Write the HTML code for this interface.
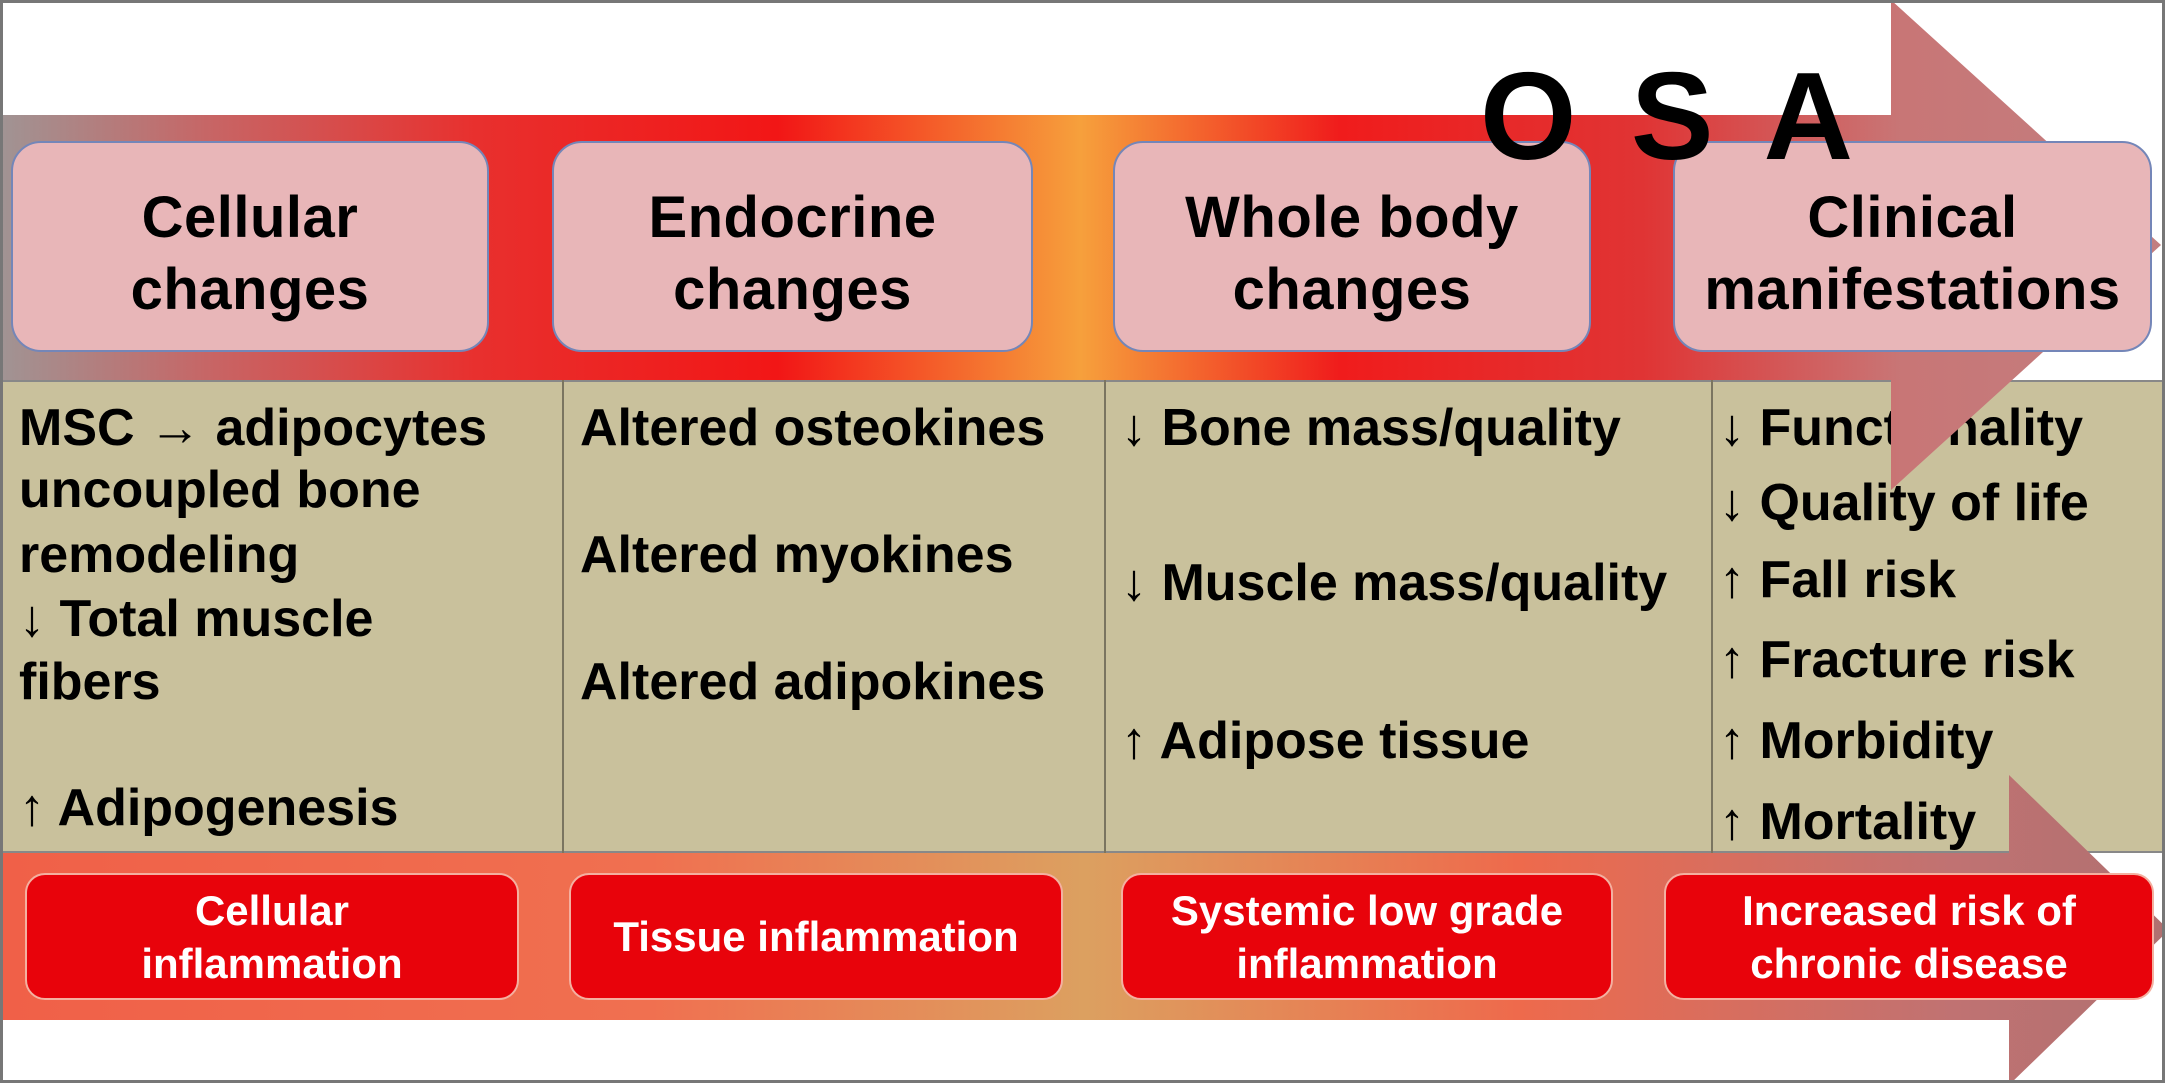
<!DOCTYPE html>
<html><head><meta charset="utf-8"><style>
html,body{margin:0;padding:0;width:2165px;height:1083px;overflow:hidden;}
body{position:relative;background:#fff;font-family:"Liberation Sans",sans-serif;}
.abs{position:absolute;}
.hb{position:absolute;top:141px;height:211px;padding-top:14px;background:#e8b6b8;border:2px solid #7486b8;border-radius:30px;box-sizing:border-box;display:flex;align-items:center;justify-content:center;text-align:center;font-weight:bold;font-size:58px;line-height:72px;color:#000;letter-spacing:0.5px;}
.bb{position:absolute;top:873px;height:127px;background:#e8030b;border:2px solid #f4b0a0;border-radius:20px;box-sizing:border-box;display:flex;align-items:center;justify-content:center;text-align:center;font-weight:bold;font-size:42px;line-height:53px;color:#fff;}
.t{position:absolute;font-weight:bold;font-size:52px;line-height:60px;color:#000;white-space:nowrap;transform:translateY(-30px);}
.sep{position:absolute;top:380px;height:473px;width:2px;background:#7a7560;}
</style></head><body>
<div class="abs" style="left:0;top:0;width:2165px;height:1083px;box-sizing:border-box;border:3px solid #777;z-index:50;pointer-events:none"></div>
<div class="abs" style="left:0;top:380px;width:2165px;height:473px;background:#c9c19c;border-top:2px solid #888;border-bottom:2px solid #888;box-sizing:border-box"></div>
<div class="sep" style="left:562px"></div>
<div class="sep" style="left:1104px"></div>
<div class="sep" style="left:1711px"></div>

<div class="t" style="left:19px;top:428px">MSC → adipocytes</div>
<div class="t" style="left:19px;top:490px">uncoupled bone</div>
<div class="t" style="left:19px;top:555px">remodeling</div>
<div class="t" style="left:19px;top:619px">↓ Total muscle</div>
<div class="t" style="left:19px;top:682px">fibers</div>
<div class="t" style="left:19px;top:808px">↑ Adipogenesis</div>

<div class="t" style="left:580px;top:428px">Altered osteokines</div>
<div class="t" style="left:580px;top:555px">Altered myokines</div>
<div class="t" style="left:580px;top:682px">Altered adipokines</div>

<div class="t" style="left:1121px;top:428px">↓ Bone mass/quality</div>
<div class="t" style="left:1121px;top:583px">↓ Muscle mass/quality</div>
<div class="t" style="left:1121px;top:741px">↑ Adipose tissue</div>

<div class="t" style="left:1719px;top:428px">↓ Functionality</div>
<div class="t" style="left:1719px;top:503px">↓ Quality of life</div>
<div class="t" style="left:1719px;top:580px">↑ Fall risk</div>
<div class="t" style="left:1719px;top:660px">↑ Fracture risk</div>
<div class="t" style="left:1719px;top:741px">↑ Morbidity</div>
<div class="t" style="left:1719px;top:822px">↑ Mortality</div>

<svg class="abs" style="left:0;top:0;display:block" width="2165" height="1083">
<defs>
<linearGradient id="g1" x1="0" x2="1" y1="0" y2="0">
<stop offset="0" stop-color="#a09494"/>
<stop offset="0.1" stop-color="#c86464"/>
<stop offset="0.22" stop-color="#e8302e"/>
<stop offset="0.36" stop-color="#f21616"/>
<stop offset="0.5" stop-color="#f6a03c"/>
<stop offset="0.62" stop-color="#f01c1c"/>
<stop offset="0.76" stop-color="#e03434"/>
<stop offset="0.88" stop-color="#c87676"/>
<stop offset="1" stop-color="#c27e80"/>
</linearGradient>
<linearGradient id="g2" x1="0" x2="1" y1="0" y2="0">
<stop offset="0" stop-color="#f06048"/>
<stop offset="0.3" stop-color="#f07050"/>
<stop offset="0.5" stop-color="#dca060"/>
<stop offset="0.7" stop-color="#ee6a4c"/>
<stop offset="0.9" stop-color="#c07272"/>
<stop offset="1" stop-color="#b07070"/>
</linearGradient>
</defs>
<polygon points="0,115 1891,115 1891,0 2161,245 1891,490 1891,380 0,380" fill="url(#g1)"/>
<polygon points="0,853 2009,853 2009,775 2169,930 2009,1085 2009,1020 0,1020" fill="url(#g2)"/>
</svg>

<div class="hb" style="left:11px;width:478px">Cellular<br>changes</div>
<div class="hb" style="left:552px;width:481px">Endocrine<br>changes</div>
<div class="hb" style="left:1113px;width:478px">Whole body<br>changes</div>
<div class="hb" style="left:1673px;width:479px">Clinical<br>manifestations</div>

<div class="abs" style="left:1480px;top:52px;font-weight:bold;font-size:124px;line-height:130px;letter-spacing:10px;color:#000;white-space:nowrap;z-index:5">O S A</div>

<div class="bb" style="left:25px;width:494px">Cellular<br>inflammation</div>
<div class="bb" style="left:569px;width:494px">Tissue inflammation</div>
<div class="bb" style="left:1121px;width:492px">Systemic low grade<br>inflammation</div>
<div class="bb" style="left:1664px;width:490px">Increased risk of<br>chronic disease</div>
</body></html>
